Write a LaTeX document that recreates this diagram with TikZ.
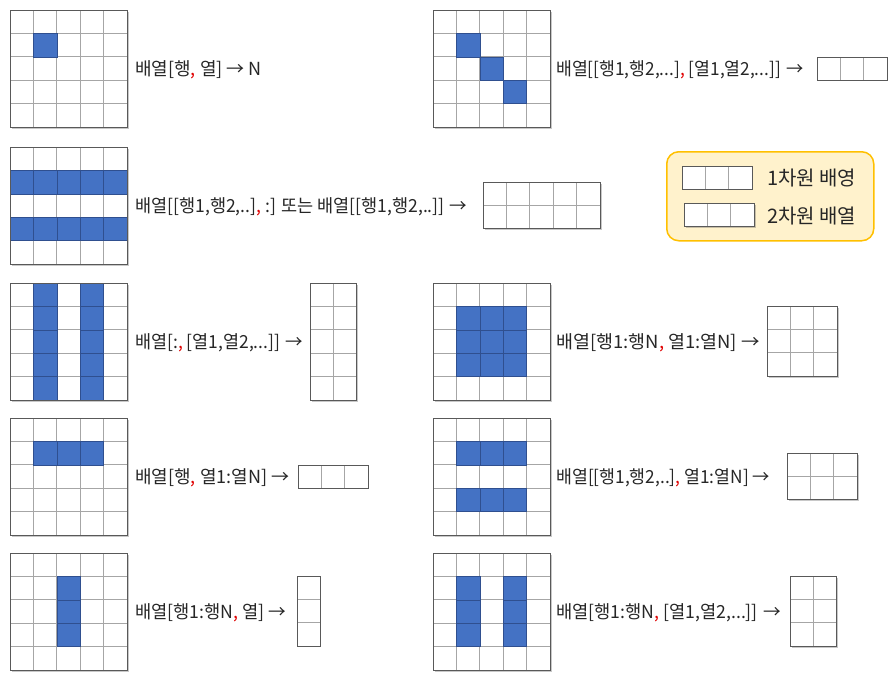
\documentclass[tikz,border=0pt]{standalone}
\usepackage{graphicx}
\usepackage{fontspec}
\setmainfont{Noto Sans CJK KR}
\usetikzlibrary{shadows}
\definecolor{cellblue}{HTML}{4472C4}
\definecolor{bluedark}{HTML}{2F4F8F}
\definecolor{gridgray}{HTML}{A6A6A6}
\definecolor{bordergray}{HTML}{595959}
\definecolor{commared}{HTML}{E00000}
\definecolor{legfill}{HTML}{FFF2CC}
\definecolor{legdraw}{HTML}{FFC000}
\definecolor{txt}{HTML}{262626}
\newcommand\cs{23.4}
\newcommand\rc{\textcolor{commared}{,}}
\newcommand\sx[2]{\scalebox{#1}[1]{#2}}
% #1 name, #2 x, #3 y, #4 blue cells c/r
\newcommand\biggrid[4]{%
  \begin{scope}[shift={(#2,#3)}]
    \path[fill=white, gridshadow] (0,0) rectangle (5*\cs,5*\cs);
    \foreach \i in {0,...,4}{\foreach \j in {0,...,4}{\draw[cellline] (\i*\cs,\j*\cs) rectangle ++(\cs,\cs);}}
    \foreach \c/\r in {#4}{\draw[bluecell] (\c*\cs,\r*\cs) rectangle ++(\cs,\cs);}
    \node[outerbox, minimum width=5*\cs pt, minimum height=5*\cs pt] (#1) at (0,0) {};
  \end{scope}}
% #1 name, #2 x, #3 y, #4 last col index, #5 last row index, #6 extra style
\newcommand\resbox[6]{%
  \begin{scope}[shift={(#2,#3)}]
    \path[fill=white, #6] (0,0) rectangle ({(#4+1)*\cs},{(#5+1)*\cs});
    \foreach \i in {0,...,#4}{\foreach \j in {0,...,#5}{\draw[cellline] (\i*\cs,\j*\cs) rectangle ++(\cs,\cs);}}
    \node[outerbox, minimum width={(#4+1)*\cs pt}, minimum height={(#5+1)*\cs pt}] (#1) at (0,0) {};
  \end{scope}}
\begin{document}
\begin{tikzpicture}[x=1pt, y=-1pt,
  cellline/.style={draw=gridgray, line width=0.8pt},
  bluecell/.style={fill=cellblue, draw=bluedark, line width=0.6pt},
  outerbox/.style={draw=bordergray, line width=0.9pt, inner sep=0pt, outer sep=0pt, anchor=north west},
  gridshadow/.style={drop shadow={shadow xshift=1.5pt, shadow yshift=-1.5pt, opacity=0.3, fill=black!70}},
  lbl/.style={anchor=west, inner sep=0pt, text=txt, font=\fontsize{18}{21}\selectfont},
  leglbl/.style={anchor=west, inner sep=0pt, text=txt, font=\fontsize{20}{23}\selectfont},
  legendbox/.style={draw=legdraw, fill=legfill, line width=1.5pt, rounded corners=12pt, anchor=north west, minimum width=207pt, minimum height=89pt}
]
\useasboundingbox (0,0) rectangle (894,680);
\fill[white] (0,0) rectangle (894,680);

% row 1
\biggrid{g1}{10}{10}{1/1}
\node[lbl] (t1) at (135,69.5) {배열[행\rc{} 열] → N};
\biggrid{g2}{433}{10}{1/1,2/2,3/3}
\node[lbl] (t2) at (556,69.5) {\sx{0.957}{배열[[행1,행2,...]\rc{} [열1,열2,...]] →}};
\resbox{r2}{817}{57}{2}{0}{}

% row 2
\biggrid{g3}{10}{147}{0/1,1/1,2/1,3/1,4/1,0/3,1/3,2/3,3/3,4/3}
\node[lbl] (t3) at (135,206.5) {\sx{0.974}{배열[[행1,행2,..]\rc{} :] 또는 배열[[행1,행2,..]] →}};
\resbox{r3}{483}{182}{4}{1}{gridshadow}

% legend
\node[legendbox] (leg) at (666,151) {};
\resbox{l1}{682}{166}{2}{0}{}
\node[leglbl] (lt1) at (767,178.5) {1차원 배영};
\resbox{l2}{684}{203}{2}{0}{gridshadow}
\node[leglbl] (lt2) at (767,216.5) {2차원 배열};

% row 3
\biggrid{g4}{10}{283}{1/0,1/1,1/2,1/3,1/4,3/0,3/1,3/2,3/3,3/4}
\node[lbl] (t4) at (135,342.5) {\sx{0.97}{배열[:\rc{} [열1,열2,...]] →}};
\resbox{r4}{310}{283}{1}{4}{gridshadow}
\biggrid{g5}{433}{283}{1/1,2/1,3/1,1/2,2/2,3/2,1/3,2/3,3/3}
\node[lbl] (t5) at (556,342.5) {\sx{1.025}{배열[행1:행N\rc{} 열1:열N] →}};
\resbox{r5}{767}{306}{2}{2}{gridshadow}

% row 4
\biggrid{g6}{10}{418}{1/1,2/1,3/1}
\node[lbl] (t6) at (135,477.5) {배열[행\rc{} 열1:열N] →};
\resbox{r6}{298}{465}{2}{0}{}
\biggrid{g7}{433}{418}{1/1,2/1,3/1,1/3,2/3,3/3}
\node[lbl] (t7) at (556,477.5) {\sx{0.96}{배열[[행1,행2,..]\rc{} 열1:열N] →}};
\resbox{r7}{787}{453}{2}{1}{gridshadow}

% row 5
\biggrid{g8}{10}{553}{2/1,2/2,2/3}
\node[lbl] (t8) at (135,612.5) {\sx{0.98}{배열[행1:행N\rc{} 열] →}};
\resbox{r8}{297}{576}{0}{2}{}
\biggrid{g9}{433}{553}{1/1,1/2,1/3,3/1,3/2,3/3}
\node[lbl] (t9) at (556,612.5) {\sx{0.98}{배열[행1:행N\rc{} [열1,열2,...]] →}};
\resbox{r9}{790}{576}{1}{2}{gridshadow}
\end{tikzpicture}
\end{document}
